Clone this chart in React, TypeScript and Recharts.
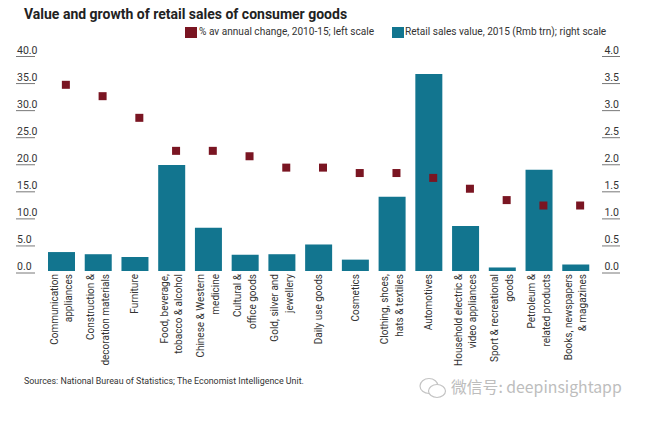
import React from 'react';
import { ComposedChart, Bar, Line, XAxis, YAxis } from 'recharts';

const FONT = 'Roboto, sans-serif';
const TEAL = '#12758f';
const MAROON = '#7a1522';
const TEXT = '#333';

// "|" marks the line break in the rotated labels
const categories = [
  'Communication|appliances',
  'Construction &|decoration materials',
  'Furniture',
  'Food, beverage,|tobacco & alcohol',
  'Chinese & Western|medicine',
  'Cultural &|office goods',
  'Gold, silver and|jewellery',
  'Daily use goods',
  'Cosmetics',
  'Clothing, shoes,|hats & textiles',
  'Automotives',
  'Household electric &|video appliances',
  'Sport & recreational|goods',
  'Petroleum &|related products',
  'Books, newspapers|& magazines',
];
const salesValue = [0.35, 0.31, 0.26, 1.96, 0.8, 0.3, 0.31, 0.49, 0.21, 1.37, 3.64, 0.83, 0.065, 1.87, 0.12];
const annualChange = [34.4, 32.3, 28.3, 22.2, 22.2, 21.2, 19.1, 19.1, 18.1, 18.1, 17.2, 15.2, 13.1, 12.1, 12.1];
const leftTicks = [0, 5, 10, 15, 20, 25, 30, 35, 40];
const rightTicks = [0, 0.5, 1, 1.5, 2, 2.5, 3, 3.5, 4];

const changeName = '% av annual change, 2010-15; left scale';
const salesName = 'Retail sales value, 2015 (Rmb trn); right scale';

const data = categories.map((name, i) => ({
  name,
  sales: salesValue[i],
  change: annualChange[i],
}));

// value sits above a short rule, like the original's axis labels
const ValueTick = ({ x, y, payload, side }: any) => {
  const left = side === 'left';
  const x1 = left ? x - 19 : x;
  const x2 = left ? x : x + 18;
  return (
    <g>
      <text x={left ? x1 + 1 : x2 - 1} y={y - 1} textAnchor={left ? 'start' : 'end'} fontSize={10.5} fill={TEXT} fontFamily={FONT}>
        {payload.value.toFixed(1)}
      </text>
      <line x1={x1} x2={x2} y1={y + 2} y2={y + 2} stroke="#555" strokeWidth={0.8} />
    </g>
  );
};

const CategoryTick = ({ x, y, payload }: any) => {
  const lines = String(payload.value).split('|');
  const top = y - 5;
  return (
    <g>
      {lines.map((line: string, i: number) => {
        const lx = x + (i - (lines.length - 1) / 2) * 14.7 + 3.5;
        return (
          <text
            key={line}
            x={lx}
            y={top}
            transform={`rotate(-90 ${lx} ${top})`}
            textAnchor="end"
            fontSize={10}
            fill={TEXT}
            fontFamily={FONT}
          >
            {line}
          </text>
        );
      })}
    </g>
  );
};

// markers sit a little right of the bar centres in the original
const SquareDot = ({ cx, cy }: any) => (
  <rect x={cx + 0.5} y={cy - 4} width={8} height={8} fill={MAROON} />
);

const legendText: React.CSSProperties = { position: 'absolute', top: 26, fontFamily: FONT, fontSize: 10.1, color: TEXT, lineHeight: '12px', whiteSpace: 'nowrap' };

export default function App() {
  return (
    <div style={{ position: 'absolute', left: 0, top: 0, width: 651, height: 424, background: '#fff', overflow: 'hidden' }}>
      <div style={{ position: 'absolute', left: 24, top: 6, fontFamily: FONT, fontSize: 14, fontWeight: 700, color: '#222', whiteSpace: 'nowrap' }}>
        Value and growth of retail sales of consumer goods
      </div>
      <span style={{ position: 'absolute', left: 185, top: 27, width: 12, height: 11, background: MAROON }} />
      <span style={{ ...legendText, left: 199 }}>{changeName}</span>
      <span style={{ position: 'absolute', left: 392, top: 27, width: 12, height: 11, background: TEAL }} />
      <span style={{ ...legendText, left: 405 }}>{salesName}</span>
      <ComposedChart
        width={651}
        height={424}
        data={data}
        margin={{ top: 54.5, right: 0, bottom: 0, left: 0 }}
        style={{ position: 'absolute', left: 0, top: 0 }}
      >
        <XAxis dataKey="name" height={153} interval={0} tickLine={false} axisLine={false} tick={<CategoryTick />} />
        <YAxis
          yAxisId="left"
          width={43}
          domain={[0, 40]}
          ticks={leftTicks}
          interval={0}
          tickLine={false}
          axisLine={false}
          tick={<ValueTick side="left" />}
        />
        <YAxis
          yAxisId="right"
          orientation="right"
          width={57}
          domain={[0, 4]}
          ticks={rightTicks}
          interval={0}
          tickLine={false}
          axisLine={false}
          tick={<ValueTick side="right" />}
        />
        <Bar yAxisId="right" dataKey="sales" name={salesName} fill={TEAL} barSize={27} isAnimationActive={false} />
        <Line
          yAxisId="left"
          dataKey="change"
          name={changeName}
          stroke="none"
          dot={<SquareDot />}
          activeDot={false}
          isAnimationActive={false}
        />
      </ComposedChart>
      <div style={{ position: 'absolute', left: 24, top: 376, fontFamily: FONT, fontSize: 8.9, color: TEXT, whiteSpace: 'nowrap' }}>
        Sources: National Bureau of Statistics; The Economist Intelligence Unit.
      </div>
      <svg width={30} height={26} style={{ position: 'absolute', left: 418, top: 376 }} fill="#fff" stroke="#c4c4c4" strokeWidth={1.2}>
        <ellipse cx={11} cy={10} rx={9} ry={7.5} />
        <ellipse cx={19} cy={15} rx={8.5} ry={6.5} />
      </svg>
      <div style={{ position: 'absolute', left: 451, top: 375, fontFamily: '"Noto Sans CJK SC", sans-serif', fontSize: 15.8, color: '#bdbdbd', whiteSpace: 'nowrap' }}>
        微信号: deepinsightapp
      </div>
    </div>
  );
}
